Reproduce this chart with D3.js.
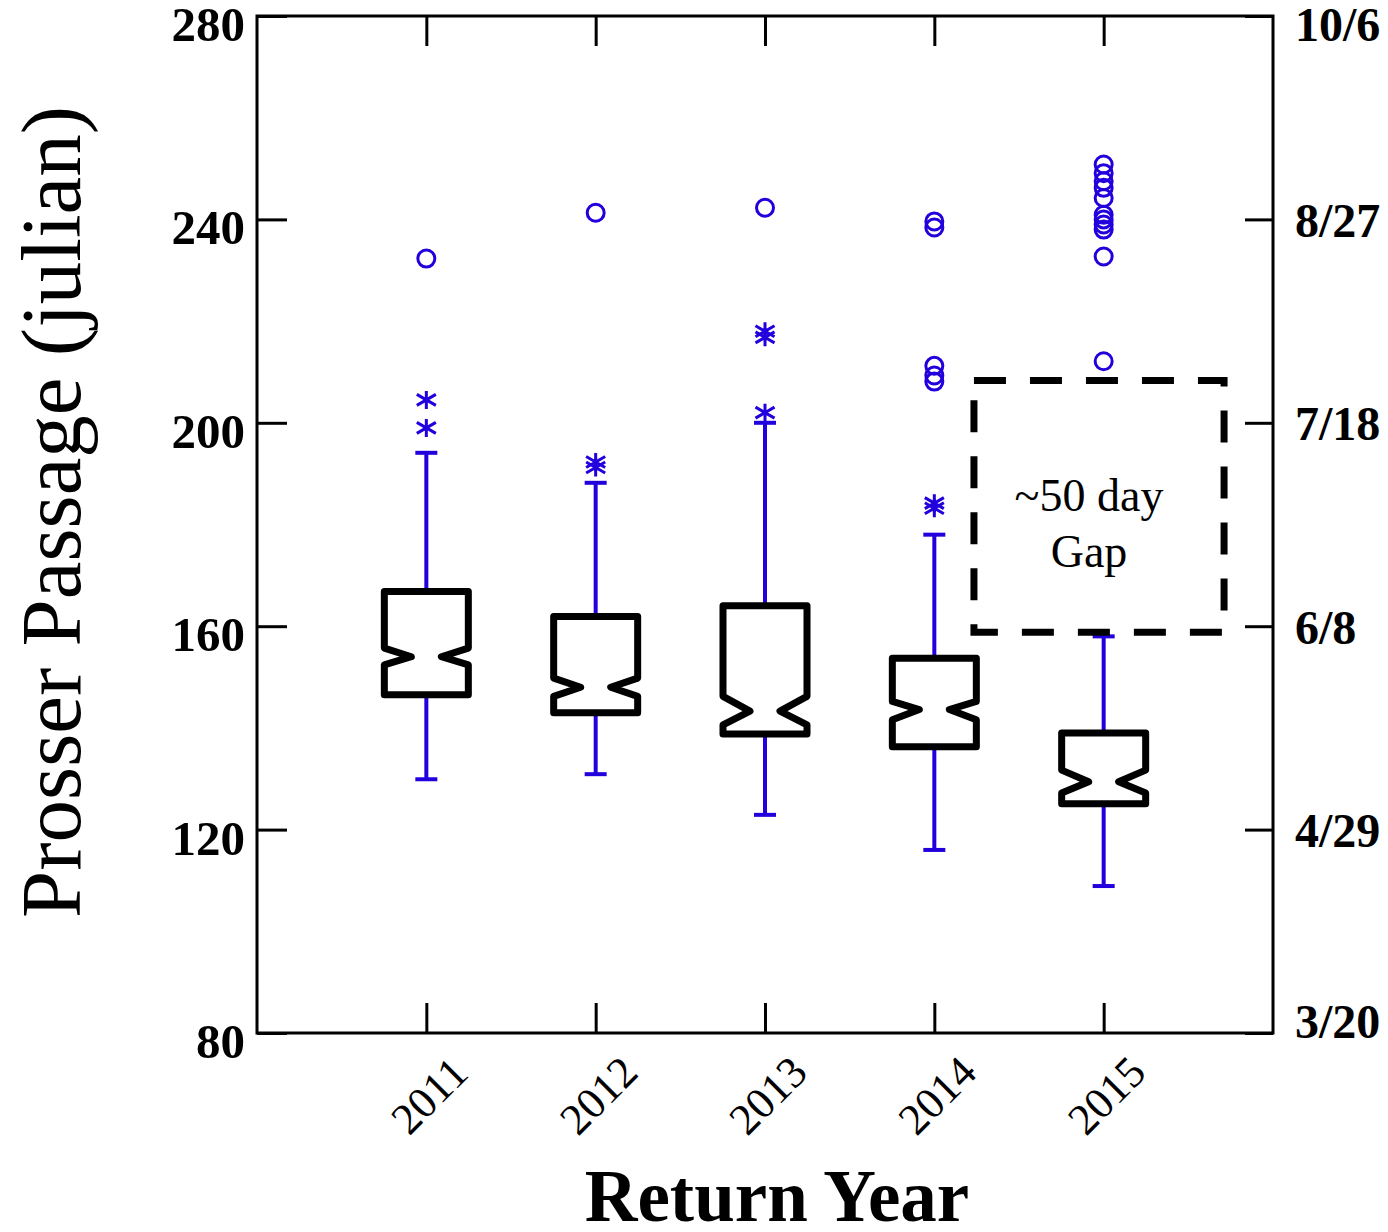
<!DOCTYPE html>
<html>
<head>
<meta charset="utf-8">
<script src="https://cdn.jsdelivr.net/npm/d3@7/dist/d3.min.js"></script>
<style>
  html, body { margin: 0; padding: 0; background: #fff; }
  svg { display: block; }
  text { font-family: "Liberation Serif", "Times New Roman", serif; }
</style>
</head>
<body>
<svg id="chart" width="1388" height="1232"></svg>
<script>
// Return years and per-year notched box summaries (julian day)
const years = ["2011", "2012", "2013", "2014", "2015"];
const q1 = [146.5, 143.0, 138.8, 136.3, 125.1];
const q3 = [166.8, 161.9, 164.0, 153.7, 139.0];
const medians = [154.0, 148.0, 143.3, 143.6, 129.4];
const notchLo = [152.4, 146.2, 140.6, 141.6, 127.2];
const notchHi = [155.7, 149.8, 146.2, 145.2, 131.7];
const whiskerLo = [129.9, 130.9, 122.9, 116.0, 108.9];
const whiskerHi = [194.1, 188.2, 200.0, 178.0, 158.0];

// Outside values (asterisks) and far-outside values (circles)
const outsideValues = [
  [199.0, 204.5],
  [191.2, 192.3],
  [202.0, 216.8, 218.0],
  [183.2, 184.2],
  []
];
const farOutsideValues = [
  [232.3],
  [241.3],
  [242.3],
  [208.1, 209.3, 211.2, 238.4, 239.6],
  [212.1, 232.7, 238.0, 239.0, 240.0, 240.9, 244.2, 246.2, 247.5, 249.1, 250.8]
];

// Axis ticks: julian day on the left, calendar date on the right
const julianTicks = [80, 120, 160, 200, 240, 280];
const dateLabels = ["3/20", "4/29", "6/8", "7/18", "8/27", "10/6"];

// Passage gap annotation (julian days)
const gapRange = [158.8, 208.3];
const gapLines = ["~50 day", "Gap"];

const svg = d3.select("#chart");
const plotLeft = 257, plotRight = 1273, plotTop = 16, plotBottom = 1033;
const blue = "#2200dd";

const x = d3.scalePoint().domain(years).range([plotLeft, plotRight]).padding(1);
const y = d3.scaleLinear().domain([80, 280]).range([plotBottom, plotTop]);

// Frame
svg.append("rect")
  .attr("x", plotLeft).attr("y", plotTop)
  .attr("width", plotRight - plotLeft).attr("height", plotBottom - plotTop)
  .attr("fill", "none").attr("stroke", "#000").attr("stroke-width", 3);

// Left axis
const gLeft = svg.append("g").attr("transform", `translate(${plotLeft},0)`)
  .call(d3.axisLeft(y).tickValues(julianTicks).tickFormat(d3.format("d"))
    .tickSizeInner(-30).tickSizeOuter(0).tickPadding(12));
gLeft.select(".domain").remove();
gLeft.selectAll(".tick line").attr("stroke", "#000").attr("stroke-width", 3);
gLeft.selectAll(".tick text")
  .attr("font-family", "Liberation Serif, serif")
  .attr("font-size", 49).attr("font-weight", "bold").attr("fill", "#000")
  .attr("x", -12).attr("dy", "0.5em");

// Right axis with calendar dates
const gRight = svg.append("g").attr("transform", `translate(${plotRight},0)`)
  .call(d3.axisRight(y).tickValues(julianTicks)
    .tickFormat((d, i) => dateLabels[i])
    .tickSizeInner(-28).tickSizeOuter(0).tickPadding(22));
gRight.select(".domain").remove();
gRight.selectAll(".tick line").attr("stroke", "#000").attr("stroke-width", 3);
gRight.selectAll(".tick text")
  .attr("font-family", "Liberation Serif, serif")
  .attr("font-size", 48).attr("font-weight", "bold").attr("fill", "#000")
  .attr("x", 22).attr("dy", "0.35em")
  // keep the end labels inside the drawing
  .attr("y", d => Math.max(plotTop + 8, Math.min(plotBottom - 12, y(d))) - y(d));

// Bottom axis with rotated year labels
const gBottom = svg.append("g").attr("transform", `translate(0,${plotBottom})`)
  .call(d3.axisBottom(x).tickSizeInner(-30).tickSizeOuter(0).tickPadding(0));
gBottom.select(".domain").remove();
gBottom.selectAll(".tick line").attr("stroke", "#000").attr("stroke-width", 3);
gBottom.selectAll(".tick text")
  .attr("font-family", "Liberation Serif, serif")
  .attr("font-size", 44).attr("fill", "#000")
  .attr("text-anchor", "middle").attr("dy", "0.35em").attr("y", 0)
  .attr("transform", "translate(2,62) rotate(-45)");

// Top axis: inward ticks only
const gTop = svg.append("g").attr("transform", `translate(0,${plotTop})`)
  .call(d3.axisTop(x).tickSizeInner(-30).tickSizeOuter(0).tickFormat(""));
gTop.select(".domain").remove();
gTop.selectAll(".tick line").attr("stroke", "#000").attr("stroke-width", 3);

// Axis titles
svg.append("text")
  .attr("transform", "translate(80,512) rotate(-90)")
  .attr("text-anchor", "middle")
  .attr("font-size", 85).attr("fill", "#000")
  .text("Prosser Passage (julian)");

svg.append("text")
  .attr("x", 777).attr("y", 1221)
  .attr("text-anchor", "middle")
  .attr("font-size", 73).attr("font-weight", "bold").attr("fill", "#000")
  .text("Return Year");

// Box plots
const boxes = years.map((yr, i) => ({
  year: yr, q1: q1[i], q3: q3[i], med: medians[i],
  nlo: notchLo[i], nhi: notchHi[i], wlo: whiskerLo[i], whi: whiskerHi[i],
  outside: outsideValues[i], far: farOutsideValues[i]
}));

const hw = 42, nw = 15, capW = 11;
const g = svg.selectAll("g.box").data(boxes).join("g").attr("class", "box");

// whiskers
g.append("line")
  .attr("x1", d => x(d.year)).attr("x2", d => x(d.year))
  .attr("y1", d => y(d.q3)).attr("y2", d => y(d.whi))
  .attr("stroke", blue).attr("stroke-width", 4);
g.append("line")
  .attr("x1", d => x(d.year)).attr("x2", d => x(d.year))
  .attr("y1", d => y(d.q1)).attr("y2", d => y(d.wlo))
  .attr("stroke", blue).attr("stroke-width", 4);
// caps
g.append("line")
  .attr("x1", d => x(d.year) - capW).attr("x2", d => x(d.year) + capW)
  .attr("y1", d => y(d.whi)).attr("y2", d => y(d.whi))
  .attr("stroke", blue).attr("stroke-width", 4);
g.append("line")
  .attr("x1", d => x(d.year) - capW).attr("x2", d => x(d.year) + capW)
  .attr("y1", d => y(d.wlo)).attr("y2", d => y(d.wlo))
  .attr("stroke", blue).attr("stroke-width", 4);

// notched box outline
g.append("path")
  .attr("d", d => {
    const cx = x(d.year);
    const p = d3.path();
    p.moveTo(cx - hw, y(d.q3));
    p.lineTo(cx + hw, y(d.q3));
    p.lineTo(cx + hw, y(d.nhi));
    p.lineTo(cx + nw, y(d.med));
    p.lineTo(cx + hw, y(d.nlo));
    p.lineTo(cx + hw, y(d.q1));
    p.lineTo(cx - hw, y(d.q1));
    p.lineTo(cx - hw, y(d.nlo));
    p.lineTo(cx - nw, y(d.med));
    p.lineTo(cx - hw, y(d.nhi));
    p.closePath();
    return p.toString();
  })
  .attr("fill", "none").attr("stroke", "#000")
  .attr("stroke-width", 7).attr("stroke-linejoin", "round");

// asterisks for outside values
const starPath = (() => {
  const p = d3.path();
  const a = 9, b = 11;
  p.moveTo(0, -a); p.lineTo(0, a);
  p.moveTo(-b * Math.cos(Math.PI / 6), -b * Math.sin(Math.PI / 6));
  p.lineTo(b * Math.cos(Math.PI / 6), b * Math.sin(Math.PI / 6));
  p.moveTo(-b * Math.cos(Math.PI / 6), b * Math.sin(Math.PI / 6));
  p.lineTo(b * Math.cos(Math.PI / 6), -b * Math.sin(Math.PI / 6));
  return p.toString();
})();

g.selectAll("path.star")
  .data(d => d.outside.map(v => ({ year: d.year, v })))
  .join("path").attr("class", "star")
  .attr("transform", d => `translate(${x(d.year)},${y(d.v)})`)
  .attr("d", starPath)
  .attr("fill", "none").attr("stroke", blue).attr("stroke-width", 3);

// circles for far-outside values
g.selectAll("circle.far")
  .data(d => d.far.map(v => ({ year: d.year, v })))
  .join("circle").attr("class", "far")
  .attr("cx", d => x(d.year)).attr("cy", d => y(d.v))
  .attr("r", 8.5)
  .attr("fill", "none").attr("stroke", blue).attr("stroke-width", 3);

// Gap annotation: dashed rectangle spanning from past 2014 to past 2015
const step = x.step();
const gx0 = x("2014") + 0.234 * step, gx1 = x("2015") + 0.711 * step;
svg.append("rect")
  .attr("x", gx0).attr("y", y(gapRange[1]))
  .attr("width", gx1 - gx0).attr("height", y(gapRange[0]) - y(gapRange[1]))
  .attr("fill", "none").attr("stroke", "#000")
  .attr("stroke-width", 7).attr("stroke-dasharray", "32,24");

const gapMid = (y(gapRange[0]) + y(gapRange[1])) / 2;
svg.append("text")
  .attr("x", (gx0 + gx1) / 2 - 10).attr("text-anchor", "middle")
  .attr("font-size", 46).attr("fill", "#000")
  .selectAll("tspan").data(gapLines).join("tspan")
  .attr("x", (gx0 + gx1) / 2 - 10)
  .attr("y", (d, i) => gapMid + 5 + i * 56)
  .text(d => d);
</script>
</body>
</html>
